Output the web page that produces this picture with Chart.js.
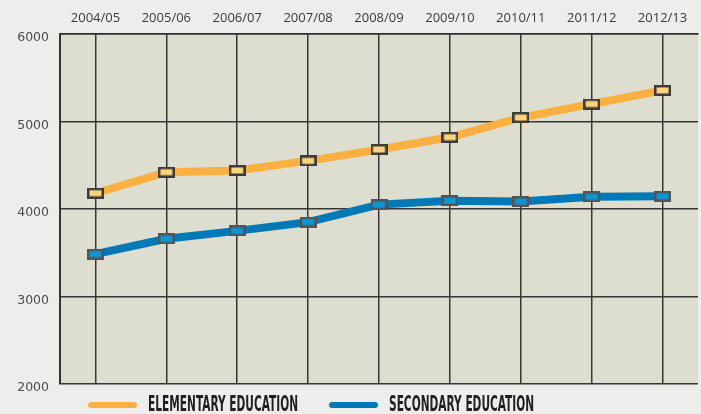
<!DOCTYPE html>
<html lang="en">
<head>
  <meta charset="UTF-8">
  <title>Elementary and Secondary Education</title>
  <script src="https://cdn.jsdelivr.net/npm/chart.js"></script>
  <style>
    body {
      margin: 0;
      background-color: #ededeb;
    }

    .wrap {
      width: 701px;
      height: 414px;
      position: relative;
    }
  </style>
</head>
<body>
  <div class="wrap"><canvas id="chart"></canvas></div>

  <script>
    const years = ["2004/05", "2005/06", "2006/07", "2007/08", "2008/09", "2009/10", "2010/11", "2011/12", "2012/13"];
    const elementary = [4180, 4420, 4440, 4550, 4680, 4820, 5045, 5200, 5355];
    const secondary = [3485, 3660, 3750, 3850, 4050, 4095, 4085, 4140, 4145];
    const yTicks = [2000, 3000, 4000, 5000, 6000];

    // small framed rectangles used as point markers
    function marker(frame, fill) {
      const c = document.createElement("canvas");
      c.width = 17;
      c.height = 11;
      const g = c.getContext("2d");
      g.fillStyle = frame;
      g.fillRect(0, 0, 17, 11);
      g.fillStyle = fill;
      g.fillRect(2.5, 2.5, 12, 6);
      return c;
    }

    const plotBackground = {
      id: "plotBackground",
      beforeDraw(chart) {
        const { ctx, chartArea: a } = chart;
        ctx.save();
        ctx.fillStyle = "#deded0";
        ctx.fillRect(a.left, a.top, a.right - a.left, a.bottom - a.top);
        ctx.restore();
      }
    };

    // legend drawn under the plot: thick rounded swatch + bold condensed caption
    const bottomLegend = {
      id: "bottomLegend",
      afterDraw(chart) {
        const ctx = chart.ctx;
        const y = chart.chartArea.bottom + 21;
        const starts = [88, 329];
        ctx.save();
        ctx.font = 'bold 21px "Liberation Sans Narrow", "DejaVu Sans Condensed", sans-serif';
        const squeeze = 150 / ctx.measureText(chart.data.datasets[0].label).width;
        chart.data.datasets.forEach((ds, i) => {
          const x = starts[i];
          ctx.strokeStyle = ds.borderColor;
          ctx.lineWidth = 6;
          ctx.lineCap = "round";
          ctx.beginPath();
          ctx.moveTo(x + 3, y);
          ctx.lineTo(x + 46, y);
          ctx.stroke();

          ctx.save();
          ctx.translate(x + 60, y);
          ctx.scale(squeeze, 1);
          ctx.fillStyle = "#231f20";
          ctx.textBaseline = "middle";
          ctx.fillText(ds.label, 0, 1);
          ctx.restore();
        });
        ctx.restore();
      }
    };

    new Chart(document.getElementById("chart"), {
      type: "line",
      data: {
        labels: years,
        datasets: [
          {
            label: "ELEMENTARY EDUCATION",
            data: elementary,
            borderColor: "#fdb042",
            borderWidth: 8,
            pointStyle: marker("#3c3c3c", "#ffd47a"),
            tension: 0
          },
          {
            label: "SECONDARY EDUCATION",
            data: secondary,
            borderColor: "#0079b6",
            borderWidth: 8,
            pointStyle: marker("#555555", "#0a97da"),
            tension: 0
          }
        ]
      },
      options: {
        responsive: true,
        maintainAspectRatio: false,
        animation: false,
        layout: {
          autoPadding: false,
          padding: { top: 0, right: 3, bottom: 30, left: 0 }
        },
        plugins: {
          legend: { display: false },
          tooltip: { enabled: false }
        },
        scales: {
          x: {
            position: "top",
            offset: true,
            afterFit(scale) {
              scale.height = 34;
              scale.paddingLeft = 0;
              scale.paddingRight = 0;
            },
            grid: {
              offset: false,
              color: "#363636",
              lineWidth: 1.5,
              drawTicks: false
            },
            border: { color: "#2a2a2a", width: 1.5 },
            ticks: {
              color: "#3a3a3a",
              padding: 8,
              font: { family: "'Open Sans', sans-serif", size: 13 }
            }
          },
          y: {
            min: 2000,
            max: 6000,
            afterFit(scale) { scale.width = 60; },
            afterBuildTicks(scale) { scale.ticks = yTicks.map(v => ({ value: v })); },
            grid: {
              color: "#363636",
              lineWidth: 1.5,
              drawTicks: false
            },
            border: { color: "#333333", width: 2 },
            ticks: {
              color: "#4a4a4a",
              padding: 11,
              labelOffset: 4,
              callback: v => String(v),
              font: { family: "'DejaVu Sans', sans-serif", size: 12.5 }
            }
          }
        }
      },
      plugins: [plotBackground, bottomLegend]
    });
  </script>
</body>
</html>
